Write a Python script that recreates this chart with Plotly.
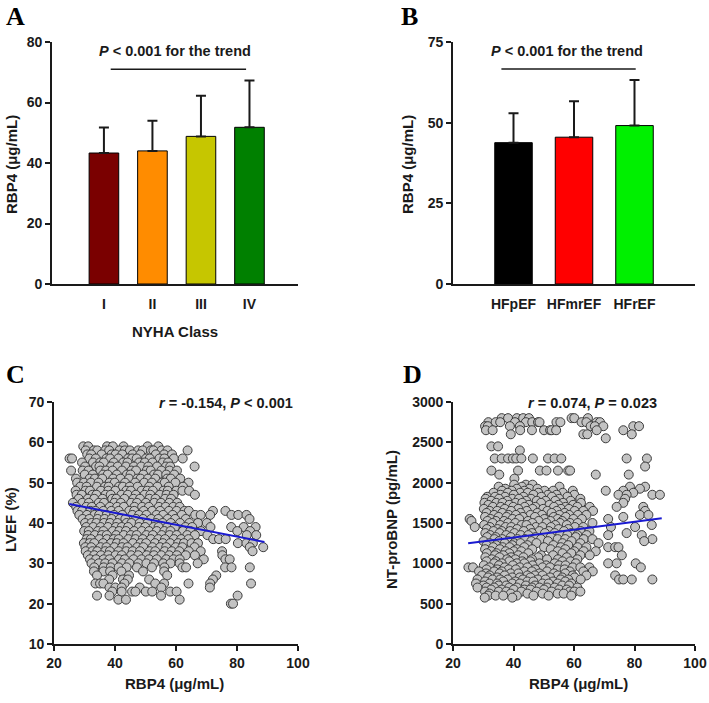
import plotly.graph_objects as go

W, H = 709, 703

####################### Data #######################
# Panel A - RBP4 by NYHA class (mean and upper SD)
nyha_class = ['I', 'II', 'III', 'IV']
nyha_mean = [43.3, 44.0, 48.8, 51.8]
nyha_sd = [8.4, 10.0, 13.4, 15.5]
nyha_colors = ['#7a0000', '#ff8c00', '#c6c600', '#008000']

# Panel B - RBP4 by HF phenotype
hf_type = ['HFpEF', 'HFmrEF', 'HFrEF']
hf_mean = [43.8, 45.5, 49.1]
hf_sd = [9.1, 11.1, 14.1]
hf_colors = ['#000000', '#ff0000', '#00f000']

# Panel C - LVEF (%) vs RBP4: RBP4 values listed per LVEF level
lvef_levels = {
    59: [29.6, 31.2, 37.4, 39.3, 42.8, 50.7, 54.2],
    58: [30.4, 33.1, 34.2, 36.8, 38.1, 41.5, 43.2, 44.9, 47.6, 49.1, 51.8, 52.6, 55.3, 57.2, 63.8],
    57: [30.9, 32.2, 35.6, 38.9, 40.2, 42.4, 45.8, 48.3, 53.4, 56.1, 58.7],
    56: [25.1, 25.9, 31.6, 33.7, 37.2, 38.4, 41.1, 44.3, 45.6, 47.1, 50.2, 51.4, 54.6, 56.2, 59.3, 62.2],
    55: [29.2, 32.8, 35.1, 36.3, 39.6, 42.7, 44.1, 47.9, 49.8, 52.3, 55.7, 57.4],
    54: [30.2, 33.8, 34.9, 38.7, 40.9, 43.6, 46.2, 48.6, 50.9, 53.8, 56.7, 58.1, 66.1],
    53: [25.6, 29.4, 31.3, 35.2, 37.1, 39.2, 42.3, 45.4, 46.9, 50.4, 51.7, 55.2, 57.9, 60.3],
    52: [30.1, 32.7, 36.1, 37.6, 40.6, 43.9, 45.1, 49.3, 52.8, 54.1, 56.8, 59.4],
    51: [27.2, 31.7, 33.4, 35.8, 39.4, 41.8, 44.6, 47.3, 48.4, 50.8, 53.2, 57.1, 58.3, 61.4],
    50: [27.6, 29.8, 32.1, 34.6, 38.2, 39.9, 43.3, 46.6, 49.6, 52.1, 55.4, 56.3, 59.8, 64.1],
    49: [28.6, 30.7, 34.1, 36.7, 37.9, 41.3, 42.6, 44.8, 47.4, 51.2, 53.9, 57.6, 62.3],
    48: [27.1, 30.3, 31.8, 35.4, 37.8, 40.1, 43.7, 45.2, 48.7, 50.6, 52.4, 55.9, 57.3, 60.1, 62.1, 64.3],
    47: [27.4, 29.1, 32.6, 33.9, 36.9, 38.6, 42.1, 44.2, 46.8, 49.7, 51.6, 54.7, 56.9, 59.2, 66.2],
    46: [28.1, 31.1, 33.2, 35.9, 39.1, 40.4, 43.1, 46.1, 48.2, 51.3, 53.3, 56.4, 58.4],
    45: [26.2, 29.3, 31.4, 34.7, 36.4, 39.8, 41.9, 45.3, 47.2, 50.1, 52.9, 55.1, 57.8, 60.4],
    44: [27.3, 30.6, 32.4, 35.2, 38.3, 40.7, 42.9, 46.4, 48.9, 51.1, 54.4, 56.6, 59.1, 61.2],
    43: [27.7, 29.2, 31.9, 33.6, 36.2, 38.8, 41.2, 44.7, 46.3, 49.4, 52.2, 54.8, 57.7, 60.2, 62.8,
         64.2, 72.1, 76.2],
    42: [28.3, 30.8, 33.3, 34.8, 37.3, 39.7, 42.4, 45.7, 47.9, 50.3, 53.6, 55.8, 58.9, 61.9, 66.3,
         68.1, 71.2, 78.2, 80.4, 83.1],
    41: [29.4, 31.6, 34.3, 36.6, 38.9, 41.6, 43.4, 46.9, 49.2, 51.9, 54.2, 57.3, 59.7, 63.2, 84.1],
    40: [30.2, 32.3, 33.9, 36.4, 38.4, 40.8, 43.8, 45.4, 48.1, 50.7, 53.4, 55.6, 58.3, 61.3, 64.4,
         67.2, 70.1],
    39: [30.6, 32.9, 35.3, 37.7, 40.3, 42.2, 44.3, 47.8, 49.9, 52.7, 54.3, 57.2, 59.6, 63.1, 65.3,
         71.3, 78.1, 82.2, 86.1],
    38: [29.9, 31.4, 34.4, 36.2, 39.3, 41.4, 43.6, 46.3, 48.8, 51.2, 53.7, 56.2, 58.2, 62.3, 64.7,
         68.2, 80.1, 84.3],
    37: [31.2, 33.4, 35.7, 37.3, 40.4, 42.9, 45.2, 47.1, 50.3, 52.4, 55.3, 57.9, 60.2, 63.7, 66.2,
         70.3, 83.2, 86.3],
    36: [30.7, 32.1, 34.9, 37.4, 39.6, 41.2, 44.4, 46.7, 49.1, 51.8, 54.2, 56.4, 59.3, 61.7, 64.1,
         72.2, 74.1, 76.3],
    35: [29.8, 31.7, 33.2, 36.1, 38.7, 40.6, 42.8, 45.9, 48.4, 50.2, 53.1, 55.7, 58.1, 60.7, 62.6,
         65.1, 67.2, 80.3, 83.1, 85.2],
    34: [30.3, 32.2, 35.3, 37.2, 39.8, 42.3, 44.1, 47.3, 49.3, 52.3, 54.8, 56.8, 59.9, 62.1, 66.1,
         84.2, 88.6],
    33: [30.4, 32.6, 34.2, 36.8, 38.3, 41.2, 43.7, 45.8, 48.2, 51.4, 53.2, 56.3, 58.6, 61.1, 64.2,
         68.1, 75.1, 85.1],
    32: [31.1, 33.2, 35.4, 37.8, 40.2, 42.2, 45.3, 47.6, 50.4, 52.8, 55.2, 57.8, 60.3, 63.2, 66.2, 75.2],
    31: [31.8, 33.8, 36.3, 38.2, 41.3, 43.2, 46.1, 48.7, 51.2, 53.7, 56.8, 59.2, 61.2, 69.1, 76.2, 77.6],
    30: [32.3, 34.7, 36.8, 39.2, 42.3, 44.7, 47.7, 50.3, 52.8, 55.8, 58.2, 61.2, 67.1],
    29: [33.2, 36.3, 38.6, 41.2, 43.8, 47.2, 52.1, 56.2, 62.1, 63.3, 76.1, 78.2, 84.2],
    28: [33.1, 36.2, 38.4, 42.1, 49.2, 56.1],
    27: [34.1, 39.2, 44.6, 57.1, 73.2],
    26: [38.1, 42.6, 44.2, 51.2, 72.1],
    25: [33.6, 35.1, 36.2, 43.1, 53.2, 56.1, 64.1, 71.2, 84.6],
    24: [38.2, 40.1, 42.2, 48.1, 55.2, 71.1],
    23: [39.1, 42.2, 45.6, 46.7, 50.1, 52.2, 58.1, 60.2],
    22: [34.1, 38.2, 55.1, 80.2],
    21: [41.1, 43.6, 61.2],
    20: [78.0, 78.7],
}
lvef_fit_x = [25, 89]
lvef_fit_y = [44.7, 35.3]

# Panel D - NT-proBNP (pg/mL) vs RBP4: RBP4 values listed per NT-proBNP level
bnp_levels = {
    2800: [36.1, 38.2, 41.1, 43.2, 45.1, 59.2, 60.1, 64.6],
    2750: [31.7, 34.1, 35.6, 40.5, 44.1, 46.2, 48.1, 48.6, 54.2, 55.5, 62.5, 64.1, 67.5, 68.6],
    2700: [30.6, 31.5, 38.8, 42.1, 65.5, 66.9, 69.7, 79.6, 81.5],
    2650: [30.9, 33.1, 42.2, 46.1, 50.1, 52.1, 52.6, 54.1, 67.5, 76.3],
    2600: [39.1, 63.1, 64.4, 79.1],
    2550: [70.5],
    2450: [32.7, 34.9],
    2400: [42.1],
    2300: [33.8, 36.1, 38.2, 39.8, 40.9, 42.6, 46.4, 51.4, 53.6, 55.8, 77.4, 84.1],
    2200: [83.5],
    2150: [32.7, 41.5, 48.7, 50.9, 54.7, 58.1, 58.7],
    2100: [35.3, 67.2, 78.1],
    2050: [40.3],
    1975: [40.2, 44.1, 46.3],
    1950: [35.1, 42.8, 55.2, 78.5, 83.5],
    1925: [37.3, 41.1, 45.3, 47.9, 81.8],
    1900: [36.2, 39.4, 43.6, 50.3, 53.1, 59.6, 70.5, 76.3],
    1875: [33.4, 38.1, 42.2, 44.7, 48.2, 56.3, 79.6],
    1850: [35.7, 40.1, 46.6, 51.4, 54.2, 60.1, 74.7, 77.4, 85.9, 88.4],
    1825: [31.3, 33.9, 37.2, 43.3, 49.2, 52.7, 57.8],
    1800: [30.8, 35.2, 39.6, 41.8, 45.8, 55.1, 62.1, 76.9],
    1775: [32.6, 37.9, 44.2, 47.7, 50.6, 53.8, 58.9],
    1750: [30.4, 34.3, 36.4, 40.7, 42.9, 49.1, 56.4, 62.3, 76.3],
    1725: [31.7, 38.6, 45.1, 51.9, 54.8, 59.7],
    1700: [33.2, 35.8, 39.9, 43.7, 47.2, 53.4, 57.2, 61.1, 65.2, 74.1, 82.9],
    1675: [30.2, 37.1, 41.6, 46.3, 49.8, 55.7, 58.3],
    1650: [32.1, 34.6, 39.2, 44.4, 51.2, 54.3, 60.2, 63.1, 66.3, 83.5],
    1625: [31.1, 36.3, 42.3, 47.9, 52.6, 56.9],
    1600: [33.6, 38.4, 40.8, 45.6, 49.4, 55.2, 58.4, 61.3, 64.1, 81.8, 84.6],
    1575: [30.6, 35.1, 37.7, 43.1, 47.1, 53.3, 57.3, 76.3],
    1550: [25.5, 32.4, 39.7, 41.9, 50.2, 54.6, 59.8, 62.6, 71.3],
    1525: [26.1, 31.4, 34.2, 36.9, 44.8, 48.3, 52.2, 56.1],
    1500: [33.1, 38.2, 40.6, 46.2, 50.9, 55.4, 58.7, 61.2, 66.1],
    1475: [30.3, 35.6, 42.7, 44.3, 53.8, 57.6, 85.7],
    1450: [27.2, 32.2, 37.4, 39.3, 47.4, 49.6, 52.4, 60.3, 63.1, 72.2, 80.2],
    1425: [31.2, 34.7, 41.2, 45.4, 54.9, 58.1],
    1400: [33.4, 36.1, 38.9, 43.4, 48.6, 51.7, 56.7, 62.2, 65.1],
    1375: [30.7, 35.4, 40.3, 46.1, 50.4, 53.6, 59.1, 77.4],
    1350: [32.3, 37.6, 42.4, 44.9, 55.4, 57.8, 61.1, 64.2, 71.3, 82.4],
    1325: [31.3, 34.1, 39.1, 47.3, 52.3, 60.6],
    1300: [33.7, 36.3, 41.3, 43.8, 49.1, 54.6, 57.1, 63.2, 66.1, 85.9],
    1275: [30.1, 35.2, 38.3, 45.9, 51.4, 59.2, 83.2],
    1250: [32.1, 37.1, 40.2, 42.3, 47.6, 56.2, 62.1, 68.1],
    1225: [31.1, 34.3, 39.6, 44.6, 53.2, 58.1],
    1200: [33.3, 36.4, 38.7, 43.6, 50.1, 55.6, 61.2, 64.1, 71.3, 73.6, 74.7],
    1175: [30.6, 35.5, 41.1, 46.2, 52.3, 57.1],
    1150: [32.6, 37.4, 40.1, 42.6, 54.6, 60.1, 63.2, 67.2],
    1125: [31.2, 34.4, 38.6, 44.9, 56.2, 59.1],
    1100: [33.9, 36.6, 41.6, 49.1, 53.1, 62.1, 65.2, 75.8],
    1075: [30.7, 35.4, 39.2, 43.3, 48.2, 57.6],
    1050: [32.8, 37.9, 40.6, 46.1, 51.1, 54.7, 61.1],
    1025: [31.1, 34.2, 38.6, 42.9, 45.6, 56.2, 58.8],
    1000: [33.6, 36.1, 41.1, 43.6, 48.6, 53.6, 60.6, 71.3, 74.1, 80.4],
    975: [30.2, 35.2, 39.8, 46.3, 50.8, 55.1, 57.2],
    950: [25.1, 26.6, 32.1, 37.1, 42.1, 44.6, 49.6, 52.1, 59.6, 62.1, 65.1, 82.1],
    925: [31.1, 34.6, 38.4, 40.8, 47.2, 54.6, 56.9],
    900: [28.6, 33.6, 36.1, 43.6, 46.1, 51.1, 58.6, 63.1, 66.2],
    875: [30.9, 35.4, 39.1, 41.6, 48.6, 53.4, 57.1],
    850: [29.6, 32.1, 37.1, 44.6, 47.1, 49.6, 54.6, 59.6, 64.1, 73.6],
    825: [31.6, 34.6, 39.6, 42.1, 45.6, 52.1, 56.1, 60.2],
    800: [28.1, 33.1, 35.6, 38.1, 43.1, 48.1, 50.6, 55.6, 58.1, 62.2, 74.9, 76.3, 79.1, 85.9],
    775: [30.6, 36.6, 40.6, 44.6, 46.6, 53.1, 57.1],
    750: [27.6, 32.1, 34.6, 39.6, 42.1, 49.6, 51.6, 54.6, 59.1],
    725: [30.1, 35.1, 37.6, 44.1, 47.1, 56.1, 58.4],
    700: [28.1, 31.1, 33.6, 38.6, 41.1, 46.1, 48.6, 51.1, 53.6, 61.1],
    675: [32.6, 36.1, 40.1, 43.6, 45.6, 50.1, 55.1, 57.6],
    650: [30.6, 35.1, 37.6, 42.6, 47.6, 52.6, 58.6, 60.1, 62.1],
    625: [32.1, 39.1, 44.6, 49.6, 54.6, 56.6],
    600: [31.6, 34.1, 36.6, 41.1, 46.6, 51.6, 59.1],
    575: [30.5, 39.6],
}
bnp_fit_x = [25, 89]
bnp_fit_y = [1248, 1558]


def unpack(levels):
    xs, ys = [], []
    for yv, row in levels.items():
        for xv in row:
            xs.append(xv)
            ys.append(yv)
    return xs, ys


lvef_x, lvef_y = unpack(lvef_levels)
bnp_x, bnp_y = unpack(bnp_levels)

####################### Figure #######################
FONT = 'Arial, Liberation Sans, sans-serif'
SERIF = 'Times New Roman, Liberation Serif, serif'
INK = '#1a1a1a'


def px_x(p):
    return p / W


def px_y(p):
    return 1 - p / H


fig = go.Figure()

fig.add_trace(go.Bar(
    x=nyha_class, y=nyha_mean, width=0.61,
    marker=dict(color=nyha_colors, line=dict(color='black', width=1)),
    error_y=dict(type='data', array=nyha_sd, arrayminus=[0] * 4, symmetric=False,
                 color=INK, thickness=2, width=5),
    xaxis='x', yaxis='y', showlegend=False
))

fig.add_trace(go.Bar(
    x=hf_type, y=hf_mean, width=0.62,
    marker=dict(color=hf_colors, line=dict(color='black', width=1)),
    error_y=dict(type='data', array=hf_sd, arrayminus=[0] * 3, symmetric=False,
                 color=INK, thickness=2, width=5),
    xaxis='x2', yaxis='y2', showlegend=False
))

scatter_marker = dict(size=9, color='#c3c3c3', line=dict(color='#3c3c3c', width=1))

fig.add_trace(go.Scatter(x=lvef_x, y=lvef_y, mode='markers', marker=scatter_marker,
                         xaxis='x3', yaxis='y3', showlegend=False))
fig.add_trace(go.Scatter(x=lvef_fit_x, y=lvef_fit_y, mode='lines',
                         line=dict(color='#1a1ad0', width=2), xaxis='x3', yaxis='y3', showlegend=False))

fig.add_trace(go.Scatter(x=bnp_x, y=bnp_y, mode='markers', marker=scatter_marker,
                         xaxis='x4', yaxis='y4', showlegend=False))
fig.add_trace(go.Scatter(x=bnp_fit_x, y=bnp_fit_y, mode='lines',
                         line=dict(color='#1a1ad0', width=2), xaxis='x4', yaxis='y4', showlegend=False))

tickfont = dict(family=FONT, size=14, color=INK, weight='bold')
axis_common = dict(showline=True, linecolor=INK, linewidth=1.6, showgrid=False,
                   zeroline=False, tickfont=tickfont, ticklen=5, tickwidth=1.5,
                   tickcolor=INK, automargin=False)

dom_left = [px_x(52), px_x(298)]
dom_right = [px_x(453), px_x(695)]
dom_top = [px_y(284), px_y(42)]
dom_bottom = [px_y(644), px_y(402)]

fig.update_layout(
    width=W, height=H,
    margin=dict(l=0, r=0, t=0, b=0, autoexpand=False),
    plot_bgcolor='white', paper_bgcolor='white',
    xaxis=dict(axis_common, domain=dom_left, anchor='y', range=[-1.07, 4.0], ticks='',
               ticklabelstandoff=6),
    yaxis=dict(axis_common, domain=dom_top, anchor='x', range=[0, 80], dtick=20, ticks='outside'),
    xaxis2=dict(axis_common, domain=dom_right, anchor='y2', range=[-1.0, 3.0], ticks='',
                ticklabelstandoff=6),
    yaxis2=dict(axis_common, domain=dom_top, anchor='x2', range=[0, 75], dtick=25, ticks='outside'),
    xaxis3=dict(axis_common, domain=[px_x(54), px_x(298)], anchor='y3', range=[20, 100], dtick=20,
                ticks='outside'),
    yaxis3=dict(axis_common, domain=dom_bottom, anchor='x3', range=[10, 70], dtick=10, ticks='outside'),
    xaxis4=dict(axis_common, domain=dom_right, anchor='y4', range=[20, 100], dtick=20, ticks='outside'),
    yaxis4=dict(axis_common, domain=dom_bottom, anchor='x4', range=[0, 3000], dtick=500, ticks='outside'),
)

# trend brackets
fig.add_shape(type='line', xref='x', yref='y', x0=0.14, x1=2.93, y0=71, y1=71,
              line=dict(color=INK, width=1.5))
fig.add_shape(type='line', xref='x2', yref='y2', x0=-0.2, x1=2.02, y0=66.6, y1=66.6,
              line=dict(color=INK, width=1.5))

bold14 = dict(family=FONT, size=14.5, color=INK, weight='bold')
bold15 = dict(family=FONT, size=15, color=INK, weight='bold')
letter = dict(family=SERIF, size=26, color='black', weight='bold')

annotations = [
    # panel letters
    dict(text='A', x=px_x(4), y=px_y(0), xanchor='left', yanchor='top', font=letter),
    dict(text='B', x=px_x(399), y=px_y(0), xanchor='left', yanchor='top', font=letter),
    dict(text='C', x=px_x(4), y=px_y(358), xanchor='left', yanchor='top', font=letter),
    dict(text='D', x=px_x(401), y=px_y(358), xanchor='left', yanchor='top', font=letter),
    # statistics
    dict(text='<i>P</i> < 0.001 for the trend', x=px_x(175), y=px_y(51), font=bold14),
    dict(text='<i>P</i> < 0.001 for the trend', x=px_x(567), y=px_y(51), font=bold14),
    dict(text='<i>r</i> = -0.154, <i>P</i> < 0.001', x=px_x(295), y=px_y(403),
         xanchor='right', font=bold14),
    dict(text='<i>r</i> = 0.074, <i>P</i> = 0.023', x=px_x(659), y=px_y(403),
         xanchor='right', font=bold14),
    # axis titles
    dict(text='NYHA Class', x=px_x(175), y=px_y(331), font=bold15),
    dict(text='RBP4 (μg/mL)', x=px_x(174), y=px_y(683), font=bold15),
    dict(text='RBP4 (μg/mL)', x=px_x(578), y=px_y(683), font=bold15),
    dict(text='RBP4 (μg/mL)', x=px_x(11), y=px_y(165), textangle=-90, font=bold15),
    dict(text='RBP4 (μg/mL)', x=px_x(407), y=px_y(165), textangle=-90, font=bold15),
    dict(text='LVEF (%)', x=px_x(10), y=px_y(520), textangle=-90, font=bold15),
    dict(text='NT-proBNP (pg/mL)', x=px_x(391), y=px_y(520), textangle=-90, font=bold15),
]
for a in annotations:
    a.setdefault('xanchor', 'center')
    a.setdefault('yanchor', 'middle')
    fig.add_annotation(xref='paper', yref='paper', showarrow=False, **a)

# the default page body has an 8px margin; remove it so the figure sits at the window origin
fig.write_html("out.html", config={'displayModeBar': False},
               post_script="document.body.style.margin='0';")
